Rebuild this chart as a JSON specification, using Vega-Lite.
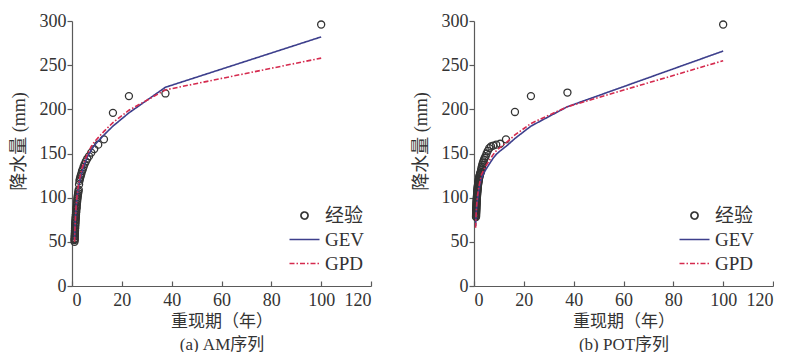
{
  "$schema": "https://vega.github.io/schema/vega-lite/v6.json",
  "background": "white",
  "padding": {"left": 10, "top": 12, "right": 0, "bottom": 0},
  "config": {
    "font": "'Liberation Serif', 'Noto Sans CJK SC', serif",
    "view": {"stroke": null},
    "axis": {
      "grid": false,
      "domainColor": "#5a5a5a",
      "domainWidth": 1.2,
      "tickColor": "#5a5a5a",
      "tickWidth": 1.2,
      "labelFont": "'Liberation Serif', 'Noto Sans CJK SC', serif",
      "labelFontSize": 18,
      "labelColor": "#333333",
      "titleFont": "'Liberation Serif', 'Noto Sans CJK SC', serif",
      "titleFontSize": 17,
      "titleFontWeight": "normal",
      "titleColor": "#333333"
    },
    "legend": {
      "title": null,
      "orient": "none",
      "padding": 0,
      "symbolSize": 225,
      "symbolStrokeWidth": 1.7,
      "rowPadding": 4,
      "labelOffset": 11,
      "labelFont": "'Liberation Serif', 'Noto Sans CJK SC', serif",
      "labelFontSize": 19,
      "labelColor": "#333333"
    }
  },
  "datasets": {
    "am_pts": [
      {"T": 100, "v": 296, "s": "经验"}, {"T": 37.5, "v": 218, "s": "经验"}, {"T": 22.85, "v": 215, "s": "经验"}, {"T": 16.43, "v": 196, "s": "经验"},
      {"T": 12.83, "v": 166, "s": "经验"}, {"T": 10.52, "v": 160, "s": "经验"}, {"T": 8.92, "v": 155, "s": "经验"}, {"T": 7.74, "v": 151, "s": "经验"},
      {"T": 6.83, "v": 147, "s": "经验"}, {"T": 6.12, "v": 144, "s": "经验"}, {"T": 5.54, "v": 141, "s": "经验"}, {"T": 5.06, "v": 138, "s": "经验"},
      {"T": 4.66, "v": 135, "s": "经验"}, {"T": 4.31, "v": 132, "s": "经验"}, {"T": 4.02, "v": 130, "s": "经验"}, {"T": 3.76, "v": 127, "s": "经验"},
      {"T": 3.53, "v": 125, "s": "经验"}, {"T": 3.33, "v": 123, "s": "经验"}, {"T": 3.15, "v": 121, "s": "经验"}, {"T": 2.99, "v": 119, "s": "经验"},
      {"T": 2.84, "v": 115, "s": "经验"}, {"T": 2.71, "v": 109, "s": "经验"}, {"T": 2.59, "v": 107, "s": "经验"}, {"T": 2.48, "v": 105, "s": "经验"},
      {"T": 2.37, "v": 103, "s": "经验"}, {"T": 2.28, "v": 101, "s": "经验"}, {"T": 2.19, "v": 99, "s": "经验"}, {"T": 2.11, "v": 97, "s": "经验"},
      {"T": 2.04, "v": 95, "s": "经验"}, {"T": 1.97, "v": 93, "s": "经验"}, {"T": 1.9, "v": 91, "s": "经验"}, {"T": 1.84, "v": 89, "s": "经验"},
      {"T": 1.79, "v": 88, "s": "经验"}, {"T": 1.73, "v": 86, "s": "经验"}, {"T": 1.68, "v": 84, "s": "经验"}, {"T": 1.64, "v": 83, "s": "经验"},
      {"T": 1.59, "v": 81, "s": "经验"}, {"T": 1.55, "v": 80, "s": "经验"}, {"T": 1.51, "v": 78, "s": "经验"}, {"T": 1.47, "v": 77, "s": "经验"},
      {"T": 1.44, "v": 75, "s": "经验"}, {"T": 1.4, "v": 74, "s": "经验"}, {"T": 1.37, "v": 72, "s": "经验"}, {"T": 1.34, "v": 71, "s": "经验"},
      {"T": 1.31, "v": 69, "s": "经验"}, {"T": 1.28, "v": 68, "s": "经验"}, {"T": 1.25, "v": 66, "s": "经验"}, {"T": 1.23, "v": 65, "s": "经验"},
      {"T": 1.2, "v": 63, "s": "经验"}, {"T": 1.18, "v": 62, "s": "经验"}, {"T": 1.16, "v": 60, "s": "经验"}, {"T": 1.14, "v": 59, "s": "经验"},
      {"T": 1.11, "v": 57, "s": "经验"}, {"T": 1.09, "v": 56, "s": "经验"}, {"T": 1.07, "v": 54, "s": "经验"}, {"T": 1.05, "v": 53, "s": "经验"},
      {"T": 1.04, "v": 52, "s": "经验"}, {"T": 1.02, "v": 50, "s": "经验"}
    ],
    "am_fit": [
      {"T": 1.02, "v": 52, "s": "GEV"}, {"T": 1.1, "v": 60, "s": "GEV"}, {"T": 1.2, "v": 67, "s": "GEV"}, {"T": 1.4, "v": 78, "s": "GEV"},
      {"T": 1.6, "v": 87, "s": "GEV"}, {"T": 1.8, "v": 94, "s": "GEV"}, {"T": 2.0, "v": 100, "s": "GEV"}, {"T": 2.4, "v": 108, "s": "GEV"},
      {"T": 3.0, "v": 118, "s": "GEV"}, {"T": 4.0, "v": 129, "s": "GEV"}, {"T": 5.0, "v": 138, "s": "GEV"}, {"T": 6.12, "v": 146, "s": "GEV"},
      {"T": 7.74, "v": 154, "s": "GEV"}, {"T": 8.92, "v": 159, "s": "GEV"}, {"T": 10.52, "v": 164, "s": "GEV"}, {"T": 12.83, "v": 171, "s": "GEV"},
      {"T": 16.43, "v": 181, "s": "GEV"}, {"T": 22.85, "v": 196, "s": "GEV"}, {"T": 37.5, "v": 225, "s": "GEV"}, {"T": 100, "v": 282, "s": "GEV"},
      {"T": 1.02, "v": 50, "s": "GPD"}, {"T": 1.1, "v": 58, "s": "GPD"}, {"T": 1.2, "v": 66, "s": "GPD"}, {"T": 1.4, "v": 78, "s": "GPD"},
      {"T": 1.6, "v": 88, "s": "GPD"}, {"T": 1.8, "v": 95, "s": "GPD"}, {"T": 2.0, "v": 101, "s": "GPD"}, {"T": 2.4, "v": 111, "s": "GPD"},
      {"T": 3.0, "v": 121, "s": "GPD"}, {"T": 4.0, "v": 133, "s": "GPD"}, {"T": 5.0, "v": 141, "s": "GPD"}, {"T": 6.12, "v": 149, "s": "GPD"},
      {"T": 7.74, "v": 158, "s": "GPD"}, {"T": 8.92, "v": 163, "s": "GPD"}, {"T": 10.52, "v": 168, "s": "GPD"}, {"T": 12.83, "v": 175, "s": "GPD"},
      {"T": 16.43, "v": 185, "s": "GPD"}, {"T": 22.85, "v": 199, "s": "GPD"}, {"T": 37.5, "v": 222, "s": "GPD"}, {"T": 100, "v": 258, "s": "GPD"}
    ],
    "pot_pts": [
      {"T": 100, "v": 296, "s": "经验"}, {"T": 37.5, "v": 219, "s": "经验"}, {"T": 22.85, "v": 215, "s": "经验"}, {"T": 16.43, "v": 197, "s": "经验"},
      {"T": 12.83, "v": 166, "s": "经验"}, {"T": 10.52, "v": 161, "s": "经验"}, {"T": 8.92, "v": 160, "s": "经验"}, {"T": 7.74, "v": 159, "s": "经验"},
      {"T": 6.83, "v": 158, "s": "经验"}, {"T": 6.12, "v": 156, "s": "经验"}, {"T": 5.54, "v": 153, "s": "经验"}, {"T": 5.06, "v": 150, "s": "经验"},
      {"T": 4.66, "v": 147, "s": "经验"}, {"T": 4.31, "v": 145, "s": "经验"}, {"T": 4.02, "v": 143, "s": "经验"}, {"T": 3.76, "v": 141, "s": "经验"},
      {"T": 3.53, "v": 139, "s": "经验"}, {"T": 3.33, "v": 137, "s": "经验"}, {"T": 3.15, "v": 135, "s": "经验"}, {"T": 2.99, "v": 133, "s": "经验"},
      {"T": 2.84, "v": 131, "s": "经验"}, {"T": 2.71, "v": 129, "s": "经验"}, {"T": 2.59, "v": 128, "s": "经验"}, {"T": 2.48, "v": 127, "s": "经验"},
      {"T": 2.37, "v": 126, "s": "经验"}, {"T": 2.28, "v": 125, "s": "经验"}, {"T": 2.19, "v": 124, "s": "经验"}, {"T": 2.11, "v": 123, "s": "经验"},
      {"T": 2.04, "v": 122, "s": "经验"}, {"T": 1.97, "v": 121, "s": "经验"}, {"T": 1.9, "v": 120, "s": "经验"}, {"T": 1.84, "v": 119, "s": "经验"},
      {"T": 1.79, "v": 118, "s": "经验"}, {"T": 1.73, "v": 117, "s": "经验"}, {"T": 1.68, "v": 116, "s": "经验"}, {"T": 1.64, "v": 115, "s": "经验"},
      {"T": 1.59, "v": 114, "s": "经验"}, {"T": 1.55, "v": 113, "s": "经验"}, {"T": 1.51, "v": 112, "s": "经验"}, {"T": 1.47, "v": 111, "s": "经验"},
      {"T": 1.44, "v": 110, "s": "经验"}, {"T": 1.4, "v": 109, "s": "经验"}, {"T": 1.37, "v": 108, "s": "经验"}, {"T": 1.34, "v": 107, "s": "经验"},
      {"T": 1.31, "v": 106, "s": "经验"}, {"T": 1.28, "v": 105, "s": "经验"}, {"T": 1.25, "v": 104, "s": "经验"}, {"T": 1.23, "v": 103, "s": "经验"},
      {"T": 1.2, "v": 102, "s": "经验"}, {"T": 1.18, "v": 101, "s": "经验"}, {"T": 1.16, "v": 100, "s": "经验"}, {"T": 1.14, "v": 99, "s": "经验"},
      {"T": 1.11, "v": 98, "s": "经验"}, {"T": 1.09, "v": 97, "s": "经验"}, {"T": 1.07, "v": 96, "s": "经验"}, {"T": 1.05, "v": 95, "s": "经验"},
      {"T": 1.04, "v": 94, "s": "经验"}, {"T": 1.02, "v": 93, "s": "经验"}, {"T": 1.0, "v": 92, "s": "经验"}, {"T": 0.98, "v": 91, "s": "经验"},
      {"T": 0.96, "v": 90, "s": "经验"}, {"T": 0.95, "v": 89, "s": "经验"}, {"T": 0.93, "v": 88, "s": "经验"}, {"T": 0.92, "v": 87, "s": "经验"},
      {"T": 0.9, "v": 86, "s": "经验"}, {"T": 0.89, "v": 85, "s": "经验"}, {"T": 0.88, "v": 84, "s": "经验"}, {"T": 0.86, "v": 83, "s": "经验"},
      {"T": 0.85, "v": 82, "s": "经验"}, {"T": 0.84, "v": 81, "s": "经验"}, {"T": 0.83, "v": 80, "s": "经验"}, {"T": 0.82, "v": 79, "s": "经验"},
      {"T": 0.81, "v": 78, "s": "经验"}
    ],
    "pot_fit": [
      {"T": 0.65, "v": 68, "s": "GEV"}, {"T": 0.8, "v": 78, "s": "GEV"}, {"T": 1.0, "v": 87, "s": "GEV"}, {"T": 1.2, "v": 93, "s": "GEV"},
      {"T": 1.5, "v": 100, "s": "GEV"}, {"T": 2.0, "v": 110, "s": "GEV"}, {"T": 2.5, "v": 117, "s": "GEV"}, {"T": 3.0, "v": 122, "s": "GEV"},
      {"T": 4.0, "v": 128, "s": "GEV"}, {"T": 5.0, "v": 133, "s": "GEV"}, {"T": 6.12, "v": 138, "s": "GEV"}, {"T": 7.74, "v": 145, "s": "GEV"},
      {"T": 8.92, "v": 149, "s": "GEV"}, {"T": 10.52, "v": 153, "s": "GEV"}, {"T": 12.83, "v": 158, "s": "GEV"}, {"T": 16.43, "v": 167, "s": "GEV"},
      {"T": 22.85, "v": 181, "s": "GEV"}, {"T": 37.5, "v": 203, "s": "GEV"}, {"T": 100, "v": 266, "s": "GEV"},
      {"T": 0.65, "v": 66, "s": "GPD"}, {"T": 0.8, "v": 78, "s": "GPD"}, {"T": 1.0, "v": 89, "s": "GPD"}, {"T": 1.2, "v": 96, "s": "GPD"},
      {"T": 1.5, "v": 104, "s": "GPD"}, {"T": 2.0, "v": 113, "s": "GPD"}, {"T": 2.5, "v": 120, "s": "GPD"}, {"T": 3.0, "v": 126, "s": "GPD"},
      {"T": 4.0, "v": 132, "s": "GPD"}, {"T": 5.0, "v": 137, "s": "GPD"}, {"T": 6.12, "v": 142, "s": "GPD"}, {"T": 7.74, "v": 149, "s": "GPD"},
      {"T": 8.92, "v": 153, "s": "GPD"}, {"T": 10.52, "v": 157, "s": "GPD"}, {"T": 12.83, "v": 162, "s": "GPD"}, {"T": 16.43, "v": 171, "s": "GPD"},
      {"T": 22.85, "v": 184, "s": "GPD"}, {"T": 37.5, "v": 203, "s": "GPD"}, {"T": 100, "v": 255, "s": "GPD"}
    ]
  },
  "spacing": 40,
  "resolve": {
    "scale": {"x": "independent", "y": "independent", "color": "independent", "shape": "independent", "strokeDash": "independent"},
    "legend": {"color": "independent", "shape": "independent", "strokeDash": "independent"}
  },
  "hconcat": [
    {
      "width": 299,
      "height": 265,
      "layer": [
        {
          "data": {"name": "am_pts"},
          "mark": {"type": "point", "filled": false, "size": 225, "strokeWidth": 1.3, "opacity": 1},
          "encoding": {
            "x": {"field": "T", "type": "quantitative", "scale": {"domain": [0, 120], "nice": false},
                  "axis": {"values": [0, 20, 40, 60, 80, 100, 120], "tickSize": -5, "labelPadding": 10, "title": ["重现期（年）", "(a) AM序列"], "titlePadding": 4, "titleLineHeight": 23}},
            "y": {"field": "v", "type": "quantitative", "scale": {"domain": [0, 300], "nice": false},
                  "axis": {"values": [0, 50, 100, 150, 200, 250, 300], "tickSize": 5, "labelPadding": 1, "title": "降水量 (mm)", "titleFontSize": 18, "titleX": -53, "titleY": 120, "titleBaseline": "middle"}},
            "color": {"field": "s", "type": "nominal", "scale": {"domain": ["经验", "GEV", "GPD"], "range": ["#333333", "#3d3f8c", "#d52a4e"]},
                      "legend": {"legendX": 223, "legendY": 185}},
            "shape": {"field": "s", "type": "nominal", "scale": {"domain": ["经验", "GEV", "GPD"], "range": ["M-0.47,0A0.47,0.47 0 1,0 0.47,0A0.47,0.47 0 1,0 -0.47,0Z", "M-2,0H2", "M-2,0H2"]},
                      "legend": {"legendX": 223, "legendY": 185}}
          }
        },
        {
          "data": {"name": "am_fit"},
          "mark": {"type": "line", "strokeWidth": 1.6},
          "encoding": {
            "x": {"field": "T", "type": "quantitative"},
            "y": {"field": "v", "type": "quantitative"},
            "color": {"field": "s", "type": "nominal", "scale": {"domain": ["经验", "GEV", "GPD"], "range": ["#333333", "#3d3f8c", "#d52a4e"]},
                      "legend": {"legendX": 223, "legendY": 185}},
            "strokeDash": {"field": "s", "type": "nominal", "scale": {"domain": ["经验", "GEV", "GPD"], "range": [[1, 0], [1, 0], [5, 2, 1.5, 2]]},
                      "legend": {"legendX": 223, "legendY": 185}}
          }
        }
      ]
    },
    {
      "width": 299,
      "height": 265,
      "layer": [
        {
          "data": {"name": "pot_pts"},
          "mark": {"type": "point", "filled": false, "size": 225, "strokeWidth": 1.3, "opacity": 1},
          "encoding": {
            "x": {"field": "T", "type": "quantitative", "scale": {"domain": [0, 120], "nice": false},
                  "axis": {"values": [0, 20, 40, 60, 80, 100, 120], "tickSize": -5, "labelPadding": 10, "title": ["重现期（年）", "(b) POT序列"], "titlePadding": 4, "titleLineHeight": 23}},
            "y": {"field": "v", "type": "quantitative", "scale": {"domain": [0, 300], "nice": false},
                  "axis": {"values": [0, 50, 100, 150, 200, 250, 300], "tickSize": 5, "labelPadding": 1, "title": "降水量 (mm)", "titleFontSize": 18, "titleX": -53, "titleY": 120, "titleBaseline": "middle"}},
            "color": {"field": "s", "type": "nominal", "scale": {"domain": ["经验", "GEV", "GPD"], "range": ["#333333", "#3d3f8c", "#d52a4e"]},
                      "legend": {"legendX": 211, "legendY": 185}},
            "shape": {"field": "s", "type": "nominal", "scale": {"domain": ["经验", "GEV", "GPD"], "range": ["M-0.47,0A0.47,0.47 0 1,0 0.47,0A0.47,0.47 0 1,0 -0.47,0Z", "M-2,0H2", "M-2,0H2"]},
                      "legend": {"legendX": 211, "legendY": 185}}
          }
        },
        {
          "data": {"name": "pot_fit"},
          "mark": {"type": "line", "strokeWidth": 1.6},
          "encoding": {
            "x": {"field": "T", "type": "quantitative"},
            "y": {"field": "v", "type": "quantitative"},
            "color": {"field": "s", "type": "nominal", "scale": {"domain": ["经验", "GEV", "GPD"], "range": ["#333333", "#3d3f8c", "#d52a4e"]},
                      "legend": {"legendX": 211, "legendY": 185}},
            "strokeDash": {"field": "s", "type": "nominal", "scale": {"domain": ["经验", "GEV", "GPD"], "range": [[1, 0], [1, 0], [5, 2, 1.5, 2]]},
                      "legend": {"legendX": 211, "legendY": 185}}
          }
        }
      ]
    }
  ]
}
